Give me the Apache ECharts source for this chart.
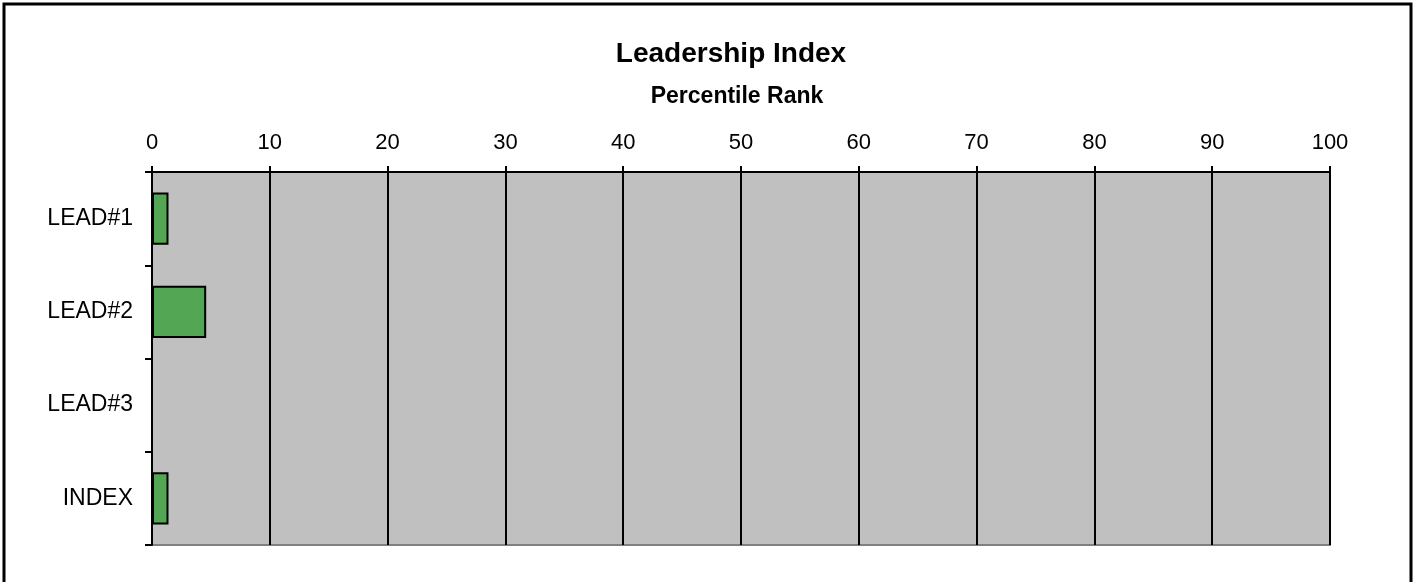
<!DOCTYPE html>
<html>
<head>
<meta charset="utf-8">
<script src="https://cdn.jsdelivr.net/npm/echarts@6/dist/echarts.min.js"></script>
<style>
  html, body { margin: 0; padding: 0; background: #fff; }
  #chart { width: 1416px; height: 582px; }
</style>
</head>
<body>
<div id="chart"></div>
<script>
var categories = ['LEAD#1', 'LEAD#2', 'LEAD#3', 'INDEX'];
var percentiles = [1.4, 4.6, 0, 1.4];

var myChart = echarts.init(document.getElementById('chart'));

var option = {
  backgroundColor: '#fff',
  title: [
    {
      text: 'Leadership Index',
      left: 726,
      top: 35,
      textAlign: 'center',
      textStyle: { fontFamily: 'Liberation Sans, Arial', fontSize: 28, fontWeight: 'bold', color: '#000' }
    },
    {
      text: 'Percentile Rank',
      left: 732,
      top: 80,
      textAlign: 'center',
      textStyle: { fontFamily: 'Liberation Sans, Arial', fontSize: 23, fontWeight: 'bold', color: '#000' }
    }
  ],
  graphic: [{
    type: 'rect',
    shape: { x: 4, y: 4, width: 1407, height: 600 },
    style: { fill: 'none', stroke: '#000', lineWidth: 3 },
    silent: true
  }],
  grid: {
    left: 152,
    right: 86,
    top: 172,
    bottom: 37,
    show: true,
    backgroundColor: '#c0c0c0',
    borderColor: '#808080',
    borderWidth: 2
  },
  xAxis: {
    type: 'value',
    position: 'top',
    min: 0,
    max: 100,
    interval: 10,
    axisLine: { show: true, lineStyle: { color: '#000', width: 2 } },
    axisTick: { show: true, length: 6, lineStyle: { color: '#000', width: 2 } },
    splitLine: { show: true, lineStyle: { color: '#000', width: 2 } },
    axisLabel: { margin: 18, fontSize: 22, color: '#000', fontFamily: 'Liberation Sans, Arial' }
  },
  yAxis: {
    type: 'category',
    inverse: true,
    data: categories,
    axisLine: { show: true, lineStyle: { color: '#000', width: 2 } },
    axisTick: { show: true, length: 7, lineStyle: { color: '#000', width: 2 } },
    axisLabel: { margin: 19, fontSize: 23, color: '#000', fontFamily: 'Liberation Sans, Arial' }
  },
  series: [{
    type: 'bar',
    data: percentiles,
    barCategoryGap: '44%',
    itemStyle: { color: '#53a653', borderColor: '#000', borderWidth: 2 }
  }]
};

myChart.setOption(option);
</script>
</body>
</html>
